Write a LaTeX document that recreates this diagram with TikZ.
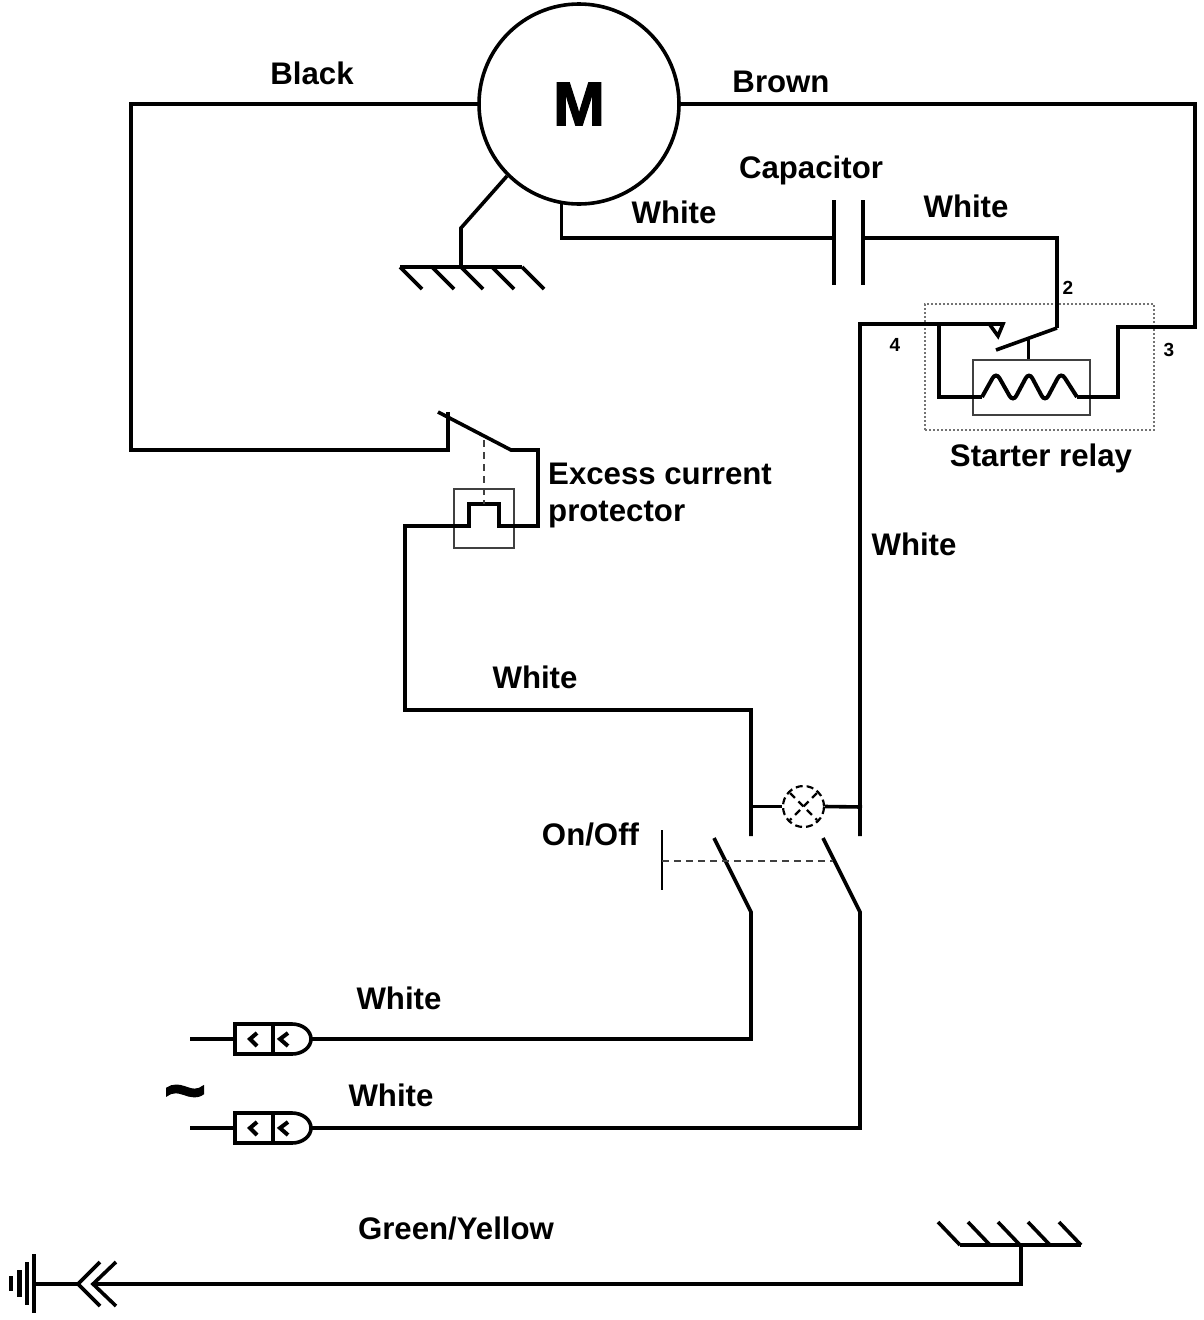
\documentclass[tikz,border=0pt]{standalone}
\usepackage{fontspec}
\setmainfont{Liberation Sans}
\newfontfamily\heavyfont[FakeBold=2]{Liberation Sans Bold}
\usetikzlibrary{positioning}
\tikzset{%
  wire/.style = {line width=3.6pt},
  thinbox/.style = {draw=black!75, line width=1.6pt, inner sep=0pt},
  linkage/.style = {black!75, line width=1.6pt, dash pattern=on 7pt off 5pt},
  lamp/.style = {circle, draw, line width=2.2pt, dash pattern=on 7pt off 4pt, minimum size=41pt, inner sep=0pt},
  relaybox/.style = {draw=black!55, line width=2pt, dotted, inner sep=0pt},
  motor/.style = {circle, draw, wire, minimum size=200pt, inner sep=0pt, font=\heavyfont\fontsize{62}{66}\selectfont},
  lbl/.style = {inner sep=0pt, font=\bfseries\fontsize{31.2}{36}\selectfont},
  pin/.style = {inner sep=0pt, font=\bfseries\fontsize{19}{20}\selectfont},
  plug/.pic = {
    \coordinate (-lead) at (-45,0);
    \coordinate (-tip) at (76,0);
    \draw[wire] (-lead) -- (0,0);
    \draw[wire] (0,-15) -- (38,-15) -- (57,-15) arc (-90:90:19 and 15) -- (0,15) -- cycle;
    \draw[wire] (38,-15) -- (38,15);
    \draw[wire, line width=4pt] (22,-6) -- (15,0) -- (22,7);
    \draw[wire, line width=4pt] (53,-6) -- (45,0) -- (53,7);
  }
}

\begin{document}
\begin{tikzpicture}[x=1pt, y=-1pt]
    \useasboundingbox (0,0) rectangle (1203,1320);

    \node (m)        [motor] at (579,104)   {M};
    \node (gapbox)   [thinbox, minimum width=60pt, minimum height=59pt] at (484,518.5) {};
    \node (coilbox)  [thinbox, minimum width=117pt, minimum height=55pt] at (1031.5,387.5) {};
    \node (relay)    [relaybox, minimum width=229pt, minimum height=126pt] at (1039.5,367) {};
    \node (bulb)     [lamp] at (803.5,806.5) {};

    \node (black)    [lbl] at (312,73)      {Black};
    \node (brown)    [lbl] at (781,82)      {Brown};
    \node (capname)  [lbl] at (811,170)     {Capacitor};
    \node (wcapl)    [lbl] at (674,212)     {White};
    \node (wcapr)    [lbl] at (966,206)     {White};
    \node (excess)   [lbl, anchor=west] at (548,474) {Excess current};
    \node (protect)  [lbl, anchor=west] at (548,515) {protector};
    \node (starter)  [lbl, below = 13pt of relay, xshift=1.5pt] {Starter relay};
    \node (wrelay)   [lbl] at (914,544)     {White};
    \node (wtrip)    [lbl] at (535,677)     {White};
    \node (onoff)    [lbl] at (590.5,834)   {On/Off};
    \node (wlinea)   [lbl] at (399,998)     {White};
    \node (wlineb)   [lbl] at (391,1095)    {White};
    \node (earth)    [lbl] at (456,1228)    {Green/Yellow};
    \node (pintwo)   [pin] at (1068,288)    {2};
    \node (pinfour)  [pin] at (895,345)     {4};
    \node (pinthree) [pin] at (1169,350)    {3};
    \node (mains)    [inner sep=0pt, font=\heavyfont\fontsize{72}{72}\selectfont] at (185,1100) {\char`\~};

    \coordinate (tripa) at (448,412);
    \coordinate (tripb) at (511,450);
    \coordinate (capa)  at (834,238);
    \coordinate (capb)  at (863,238);
    \coordinate (com)   at (1057,328);
    \coordinate (nc)    at (996,350);
    \coordinate (stem)  at (1028,338);
    \coordinate (swa)   at (751,836);
    \coordinate (swb)   at (860,836);
    \coordinate (arma)  at (714,838);
    \coordinate (armb)  at (823,838);
    \coordinate (pivota) at (751,912);
    \coordinate (pivotb) at (860,912);
    \coordinate (gnda)  at (461,266);
    \coordinate (gndb)  at (1021,1245);
    \coordinate (arrow) at (93,1284);
    \coordinate (arrowb) at (78,1284);
    \coordinate (ebar)  at (34,1284);

    \pic (pluga) at (235,1039) {plug};
    \pic (plugb) at (235,1128) {plug};

    % motor leads
    \draw[wire] (m.west) -- (131,104) -- (131,450) -- (448,450) -- (tripa);
    \draw[wire] (m.east) -- (1195,104) -- (1195,327) -- (1118,327) -- (1118,397) -- (1077,397);
    \draw[wire] (m.225) -- (461,228) -- (gnda);
    \draw[wire] (m.-100) |- (capa);
    \draw[wire] (capb) -| (com);

    % capacitor
    \draw[wire, line width=4.4pt] (834,200) -- (capa) -- (834,285);
    \draw[wire, line width=4.4pt] (863,200) -- (capb) -- (863,285);

    % relay
    \draw[wire] (swb) -- (860,324) -- (1003,324) -- (998,336) -- (990,325);
    \draw[wire] (939,324) -- (939,397) -- (982,397);
    \draw[wire, line width=4pt, rounded corners=7pt] (982,397) -- (996,372) -- (1013,402)
        -- (1029,372) -- (1045,402) -- (1061,372) -- (1077,397);
    \draw[wire] (com) -- (nc);
    \draw[wire, line width=3pt] (stem) -- (coilbox.north -| stem);

    % protector
    \draw[wire] (438,412) -- (tripb) -- (538,450) -- (538,526) -- (499,526) -- (499,504)
        -- (469,504) -- (469,526) -- (405,526) -- (405,710) -- (751,710) -- (swa);
    \draw[linkage] (484,440) -- (484,504);

    % switch and lamp
    \draw[wire] (swa |- bulb) -- (bulb.west);
    \draw[wire] (bulb.east) -- (862,807);
    \draw[wire] (swb) -- (860,807);
    \draw[line width=2.2pt, dash pattern=on 7pt off 5pt] (790,793) -- (817,820);
    \draw[line width=2.2pt, dash pattern=on 7pt off 5pt] (817,793) -- (790,820);
    \draw[wire] (arma) -- (pivota) -- (751,1039) -- (pluga-tip);
    \draw[wire] (armb) -- (pivotb) -- (860,1128) -- (plugb-tip);
    \draw[wire, line width=2.6pt] (662,830) -- (662,890);
    \draw[linkage] (662,861) -- (833,861);

    % grounds
    \draw[wire] (400,267) -- (522,267);
    \foreach \x in {400,432,461,492,522}
      \draw[wire] (\x,267) -- (\x+22,289);
    \draw[wire] (960,1245) -- (1081,1245);
    \foreach \x in {960,990,1020,1050,1081}
      \draw[wire] (\x,1245) -- (\x-22,1222);
    \draw[wire] (gndb) -- (1021,1284) -- (arrow);
    \draw[wire] (100,1262) -- (arrowb) -- (100,1306);
    \draw[wire] (116,1262) -- (arrow) -- (116,1306);
    \draw[wire] (arrowb) -- (ebar);
    \draw[wire] (34,1254) -- (34,1313);
    \draw[wire, line width=4.4pt] (27,1262) -- (27,1305);
    \draw[wire, line width=4.4pt] (19.5,1270) -- (19.5,1297);
    \draw[wire, line width=4.4pt] (11,1276) -- (11,1291);
\end{tikzpicture}
\end{document}
